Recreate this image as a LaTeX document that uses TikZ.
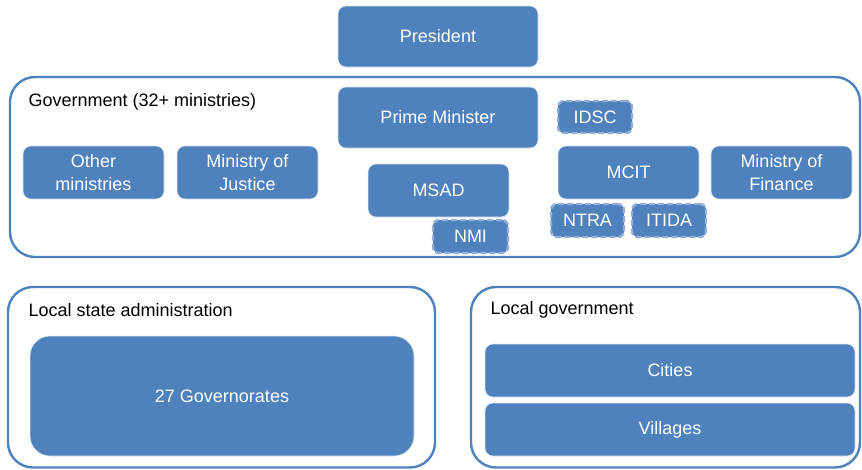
\documentclass[tikz,border=0pt]{standalone}
\usepackage{fontspec}
\setmainfont{Liberation Sans}
\definecolor{boxblue}{HTML}{4F81BD}
\definecolor{dashblue}{HTML}{94AFD8}
\tikzset{
	unit/.style={fill=boxblue, draw=white!80!boxblue, line width=0.6pt, rounded corners=8pt, text=white, align=center, inner sep=0pt, font=\fontsize{18}{23}\selectfont},
	agency/.style={unit, draw=dashblue, line width=2.4pt, dash pattern=on 6pt off 3pt, rounded corners=6pt},
	frame/.style={draw=boxblue, line width=2.4pt, rounded corners=25pt},
	label/.style={anchor=west, font=\fontsize{18}{22}\selectfont}
}

\begin{document}
\begin{tikzpicture}[x=1pt, y=-1pt]
		\useasboundingbox (0,0) rectangle (862,469);
		% frames
		\draw[frame] (10,77) rectangle (860,257);
		\draw[frame] (8,287) rectangle (435,467.5);
		\draw[frame] (471,287) rectangle (860,467.5);
		\node[label] (govtitle) at (25, 102) {Government (32+ ministries)};
		\node[label] (lsatitle) at (25, 310) {Local state administration};
		\node[label] (lgtitle) at (487, 310) {Local government};
		% central government
		\node[unit, minimum width=200pt, minimum height=61pt] (pres) at (438, 36.5) {President};
		\node[unit, minimum width=200pt, minimum height=61pt] (pm) at (438, 117.5) {Prime Minister};
		\node[agency, minimum width=74pt, minimum height=32pt] (idsc) at (595, 117) {IDSC};
		\node[unit, minimum width=141pt, minimum height=53pt] (other) at (93.5, 172.5) {Other\\ministries};
		\node[unit, minimum width=141pt, minimum height=53pt] (justice) at (247.5, 172.5) {Ministry of\\Justice};
		\node[unit, minimum width=141pt, minimum height=53pt] (msad) at (438.5, 190.5) {MSAD};
		\node[agency, minimum width=75pt, minimum height=33pt] (nmi) at (470.5, 236.5) {NMI};
		\node[unit, minimum width=141pt, minimum height=53pt] (mcit) at (628.5, 172.5) {MCIT};
		\node[unit, minimum width=141pt, minimum height=53pt] (finance) at (781.5, 172.5) {Ministry of\\Finance};
		\node[agency, minimum width=73pt, minimum height=33pt] (ntra) at (587.5, 220.5) {NTRA};
		\node[agency, minimum width=74pt, minimum height=33pt] (itida) at (669, 220.5) {ITIDA};
		% local levels
		\node[unit, rounded corners=20pt, minimum width=384pt, minimum height=120pt] (govs) at (222, 396) {27 Governorates};
		\node[unit, minimum width=370pt, minimum height=53pt] (cities) at (670, 370.5) {Cities};
		\node[unit, minimum width=370pt, minimum height=53pt] (villages) at (670, 429.5) {Villages};
	\end{tikzpicture}
\end{document}
